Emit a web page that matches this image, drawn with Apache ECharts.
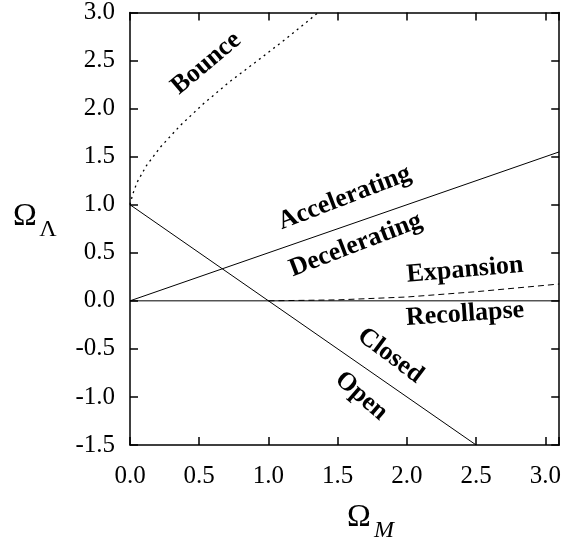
<!DOCTYPE html>
<html>
<head>
<meta charset="utf-8">
<script src="https://cdn.jsdelivr.net/npm/echarts@6/dist/echarts.min.js"></script>
<style>
html, body { margin: 0; padding: 0; background: #fff; }
#chart { width: 564px; height: 542px; }
</style>
</head>
<body>
<div id="chart"></div>
<script>
// values
var flatX = [0, 2.5];
var flatY = [1, -1.5];
var accelX = [0, 3.1];
var accelY = [0, 1.55];
var zeroX = [0, 3.1];
var zeroY = [0, 0];
var bounceX = [0, 0.02, 0.05, 0.12, 0.22, 0.36, 0.53, 0.72, 0.94, 1.13, 1.36];
var bounceY = [1.0, 1.11, 1.23, 1.41, 1.60, 1.82, 2.05, 2.28, 2.52, 2.73, 3.0];
var expandX = [1.0, 1.5, 2.0, 2.5, 3.1];
var expandY = [0, 0.01, 0.04, 0.095, 0.175];
var regionNames = ['Bounce', 'Accelerating', 'Decelerating', 'Expansion', 'Recollapse', 'Closed', 'Open'];

// where the region names sit (data coords) and their angle in degrees
var regionLayout = [
    [0.55, 2.47, 40],
    [1.55, 1.07, 21],
    [1.63, 0.58, 21],
    [2.42, 0.32, 5],
    [2.42, -0.14, 4],
    [1.88, -0.57, -37],
    [1.67, -0.99, -41]
];

var serif = '"Liberation Serif", "Times New Roman", serif';

function pairs(xs, ys) {
    var out = [];
    for (var i = 0; i < xs.length; i++) out.push([xs[i], ys[i]]);
    return out;
}

function fmt(v) {
    return Math.abs(v * 2 - Math.round(v * 2)) < 1e-6 ? v.toFixed(1) : '';
}

function lineSeries(xs, ys, type, width) {
    return {
        type: 'line',
        data: pairs(xs, ys),
        showSymbol: false,
        silent: true,
        lineStyle: { color: '#000', width: width || 1, type: type || 'solid' }
    };
}

var axisLine = { show: true, onZero: false, lineStyle: { color: '#000', width: 1.5 } };
var tick = { show: true, inside: true, length: 8, lineStyle: { color: '#000', width: 1.5 } };

var chart = echarts.init(document.getElementById('chart'));
chart.setOption({
    animation: false,
    backgroundColor: '#fff',
    grid: { left: 130, right: 3, top: 10, bottom: 97 },
    xAxis: [{
        type: 'value', position: 'bottom', min: 0, max: 3.1, interval: 0.5,
        axisLine: axisLine, axisTick: tick, splitLine: { show: false },
        axisLabel: { formatter: fmt, color: '#000', fontFamily: serif, fontSize: 25, margin: 19 }
    }, {
        type: 'value', position: 'top', min: 0, max: 3.1, interval: 0.5,
        axisLine: axisLine, axisTick: tick, splitLine: { show: false },
        axisLabel: { show: false }
    }],
    yAxis: [{
        type: 'value', position: 'left', min: -1.5, max: 3, interval: 0.5,
        axisLine: axisLine, axisTick: tick, splitLine: { show: false },
        axisLabel: { formatter: fmt, color: '#000', fontFamily: serif, fontSize: 25, margin: 15 }
    }, {
        type: 'value', position: 'right', min: -1.5, max: 3, interval: 0.5,
        axisLine: axisLine, axisTick: tick, splitLine: { show: false },
        axisLabel: { show: false }
    }],
    series: [
        lineSeries(zeroX, zeroY),
        lineSeries(flatX, flatY),
        lineSeries(accelX, accelY),
        lineSeries(bounceX, bounceY, [2, 4], 1.3),
        lineSeries(expandX, expandY, [6, 4])
    ]
});

var graphics = [];
regionNames.forEach(function (name, i) {
    var p = chart.convertToPixel({ gridIndex: 0 }, [regionLayout[i][0], regionLayout[i][1]]);
    graphics.push({
        type: 'text', x: p[0], y: p[1], rotation: regionLayout[i][2] * Math.PI / 180,
        style: { text: name, font: 'bold 26px ' + serif, fill: '#000', align: 'center', verticalAlign: 'middle' }
    });
});

// axis titles with subscripts
graphics.push(
    { type: 'text', x: 25, y: 217, style: { text: 'Ω', font: '32px ' + serif, fill: '#000', align: 'center', verticalAlign: 'middle' } },
    { type: 'text', x: 48, y: 230, style: { text: 'Λ', font: '24px ' + serif, fill: '#000', align: 'center', verticalAlign: 'middle' } },
    { type: 'text', x: 359, y: 518, style: { text: 'Ω', font: '32px ' + serif, fill: '#000', align: 'center', verticalAlign: 'middle' } },
    { type: 'text', x: 384, y: 531, style: { text: 'M', font: 'italic 24px ' + serif, fill: '#000', align: 'center', verticalAlign: 'middle' } }
);
chart.setOption({ graphic: graphics });
</script>
</body>
</html>
